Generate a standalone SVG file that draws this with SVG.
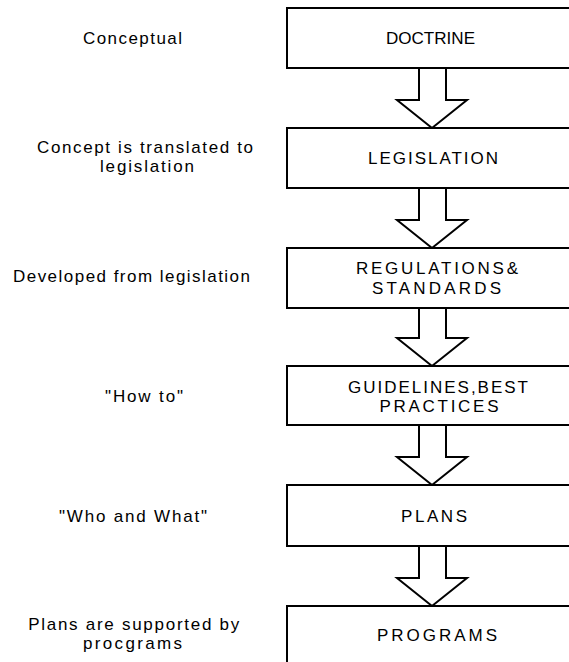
<svg xmlns="http://www.w3.org/2000/svg" width="569" height="662" viewBox="0 0 569 662">
  <style>
    .box { fill: #ffffff; stroke: #000000; stroke-width: 2; }
    .arrow { fill: #ffffff; stroke: #000000; stroke-width: 2; stroke-linejoin: miter; }
    .label { font-family: "Liberation Sans", Arial, sans-serif; font-size: 17px; fill: #000000; text-anchor: middle; }
  </style>
  <rect width="569" height="662" fill="#ffffff"/>

  <!-- block arrows between the stages -->
  <g id="connectors">
    <polygon class="arrow" points="419,68 446,68 446,100 467,100 432,128 397,100 419,100"/>
    <polygon class="arrow" points="419,188 446,188 446,220 467,220 432,248 397,220 419,220"/>
    <polygon class="arrow" points="419,308 446,308 446,338 467,338 432,366 397,338 419,338"/>
    <polygon class="arrow" points="419,425 446,425 446,457 467,457 432,485 397,457 419,457"/>
    <polygon class="arrow" points="419,546 446,546 446,578 467,578 432,606 397,578 419,578"/>
  </g>

  <g id="doctrine">
    <rect class="box" x="287" y="8" width="300" height="60"/>
    <text class="label" x="430.5" y="44" textLength="89" lengthAdjust="spacingAndGlyphs">DOCTRINE</text>
  </g>
  <g id="legislation">
    <rect class="box" x="287" y="128" width="300" height="60"/>
    <text class="label" x="433" y="164" textLength="130" lengthAdjust="spacing">LEGISLATION</text>
  </g>
  <g id="regulations">
    <rect class="box" x="287" y="248" width="300" height="60"/>
    <text class="label" x="437" y="274" textLength="162" lengthAdjust="spacing">REGULATIONS&amp;</text>
    <text class="label" x="436.5" y="293.5" textLength="129" lengthAdjust="spacing">STANDARDS</text>
  </g>
  <g id="guidelines">
    <rect class="box" x="287" y="366" width="300" height="59"/>
    <text class="label" x="438" y="392.7" textLength="180" lengthAdjust="spacing">GUIDELINES,BEST</text>
    <text class="label" x="439" y="412.3" textLength="119" lengthAdjust="spacing">PRACTICES</text>
  </g>
  <g id="plans">
    <rect class="box" x="287" y="485" width="300" height="61"/>
    <text class="label" x="434" y="521.7" textLength="66" lengthAdjust="spacing">PLANS</text>
  </g>
  <g id="programs">
    <rect class="box" x="287" y="606" width="300" height="80"/>
    <text class="label" x="437" y="640.7" textLength="120" lengthAdjust="spacing">PROGRAMS</text>
  </g>

  <!-- descriptions beside each stage -->
  <g id="note-doctrine">
    <text class="label" x="132.5" y="44" textLength="99" lengthAdjust="spacing">Conceptual</text>
  </g>
  <g id="note-legislation">
    <text class="label" x="145" y="152.5" textLength="216" lengthAdjust="spacing">Concept is translated to</text>
    <text class="label" x="147" y="171.8" textLength="94" lengthAdjust="spacing">legislation</text>
  </g>
  <g id="note-regulations">
    <text class="label" x="131.5" y="281.7" textLength="237" lengthAdjust="spacing">Developed from legislation</text>
  </g>
  <g id="note-guidelines">
    <text class="label" x="144" y="402.3" textLength="78" lengthAdjust="spacing">"How to"</text>
  </g>
  <g id="note-plans">
    <text class="label" x="133" y="522.3" textLength="148" lengthAdjust="spacing">"Who and What"</text>
  </g>
  <g id="note-programs">
    <text class="label" x="133.7" y="629.5" textLength="211" lengthAdjust="spacing">Plans are supported by</text>
    <text class="label" x="132.5" y="648.8" textLength="99" lengthAdjust="spacing">procgrams</text>
  </g>
</svg>
